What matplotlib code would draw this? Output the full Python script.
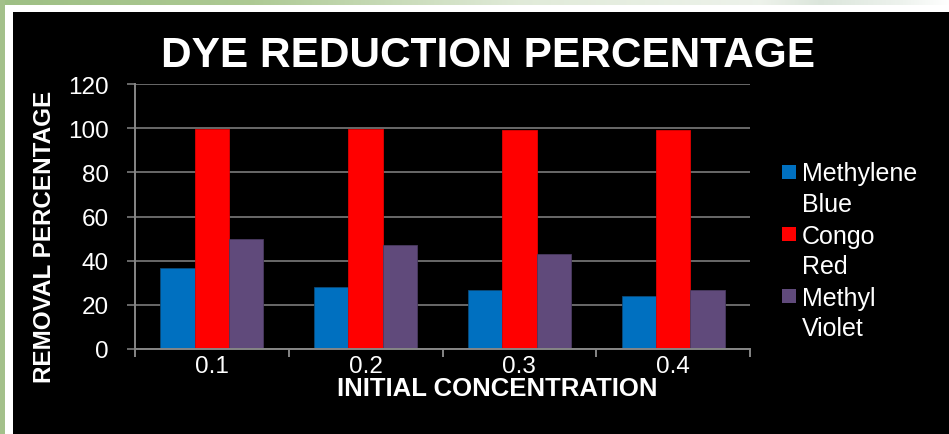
import numpy as np
import matplotlib
matplotlib.use("Agg")
import matplotlib.pyplot as plt
from matplotlib.patches import Rectangle

# Data
concentrations = ["0.1", "0.2", "0.3", "0.4"]
series_names = ["Methylene Blue", "Congo Red", "Methyl Violet"]
legend_lines = [["Methylene", "Blue"], ["Congo", "Red"], ["Methyl", "Violet"]]
methylene_blue = [36.5, 28.2, 26.5, 23.9]
congo_red = [99.5, 99.5, 99.1, 99.1]
methyl_violet = [50.0, 47.0, 43.2, 26.8]
series_values = [methylene_blue, congo_red, methyl_violet]
series_colors = ["#0070C0", "#FF0000", "#604A7B"]
edge_colors = ["#0a4a7a", "#e00000", "#4a3a60"]
y_ticks = [0, 20, 40, 60, 80, 100, 120]

W, H = 949, 435
plt.rcParams["font.family"] = ["Liberation Sans", "DejaVu Sans"]

fig = plt.figure(figsize=(W / 100, H / 100), dpi=100, facecolor="white")


def fx(x):
    return x / W


def fy(y):
    return 1 - y / H


# Slide background: green gradient strip on top and left, white border, black panel
bg = fig.add_axes([0, 0, 1, 1], zorder=-5)
bg.set_xlim(0, W)
bg.set_ylim(H, 0)
bg.axis("off")
stops_x = np.array([0, 250, 520, 760, 820, 900, 949])
stops_c = np.array([
    [0.62, 0.75, 0.52],
    [0.68, 0.79, 0.58],
    [0.88, 0.92, 0.85],
    [0.93, 0.95, 0.92],
    [0.86, 0.90, 0.86],
    [0.93, 0.95, 0.93],
    [1.0, 1.0, 1.0],
])
xs = np.arange(W)
grad = np.stack([np.interp(xs, stops_x, stops_c[:, k]) for k in range(3)], axis=-1)
bg.imshow(grad[np.newaxis, :, :], extent=(0, W, 6, 0), aspect="auto", interpolation="bilinear")
bg.add_patch(Rectangle((0, 0), 5, H, color="#a3c08a", lw=0))
bg.add_patch(Rectangle((13, 13), W - 13, H - 13, color="black", lw=0))

# Plot area
left, right, top, bottom = 135, 750, 85, 350
ax = fig.add_axes([fx(left), fy(bottom), (right - left) / W, (bottom - top) / H])
ax.set_facecolor("none")

n = len(concentrations)
centers = np.arange(n) + 0.5
bar_w = 0.223
offsets = [-bar_w, 0.0, bar_w]
for vals, col, ec, off in zip(series_values, series_colors, edge_colors, offsets):
    ax.bar(centers + off, vals, width=bar_w, color=col, edgecolor=ec, linewidth=0.6, zorder=2)

ax.set_xlim(0, n)
ax.set_ylim(0, 120)
ax.set_yticks(y_ticks)
ax.set_yticklabels([str(t) for t in y_ticks])
ax.set_xticks(np.arange(n + 1))
ax.set_xticklabels([])
ax.set_xticks(centers, concentrations, minor=True)

grid_col = "#868686"
ax.set_axisbelow(True)
ax.yaxis.grid(True, color=grid_col, linewidth=1.1)
for s in ["top", "right"]:
    ax.spines[s].set_visible(False)
for s in ["left", "bottom"]:
    ax.spines[s].set_color(grid_col)
    ax.spines[s].set_linewidth(1.4)
    ax.spines[s].set_zorder(3)

ax.tick_params(axis="y", which="major", direction="out", length=5.8, width=1.1,
               color=grid_col, labelcolor="white", labelsize=17.5, pad=13)
ax.tick_params(axis="x", which="major", direction="out", length=5.8, width=1.4,
               color=grid_col)
ax.tick_params(axis="x", which="minor", length=0, labelcolor="white",
               labelsize=17.5, pad=4)

# Titles
fig.text(fx(487.5), fy(56), "DYE REDUCTION PERCENTAGE", color="white",
         fontsize=30.5, fontweight="bold", ha="center", va="center")
fig.text(fx(45), fy(237), "REMOVAL PERCENTAGE", color="white", fontsize=17.5,
         fontweight="bold", rotation=90, ha="center", va="center")
fig.text(fx(497), fy(389), "INITIAL CONCENTRATION", color="white", fontsize=18.5,
         fontweight="bold", ha="center", va="center")

# Legend
line_y = [172.5, 203, 235, 265.5, 297, 327]
leg = fig.add_axes([0, 0, 1, 1], zorder=5)
leg.set_xlim(0, W)
leg.set_ylim(H, 0)
leg.axis("off")
for i, (lines, col) in enumerate(zip(legend_lines, series_colors)):
    y0 = line_y[2 * i]
    leg.add_patch(Rectangle((782, y0 - 7), 14, 14, color=col, lw=0))
    for j, txt in enumerate(lines):
        yc = line_y[2 * i + j]
        leg.text(802, yc + 9, txt, color="white", fontsize=18, ha="left", va="baseline")

fig.savefig("out.png", dpi=100, facecolor=fig.get_facecolor())
